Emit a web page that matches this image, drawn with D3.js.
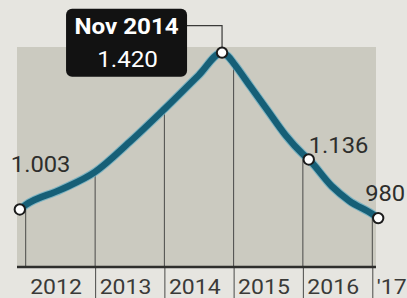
<!DOCTYPE html>
<html><head><meta charset="utf-8">
<script src="https://cdn.jsdelivr.net/npm/d3@7"></script>
<style>
html,body{margin:0;padding:0;background:#e6e5e0;}
svg{display:block;}
text{font-family:Roboto,"Open Sans",sans-serif;}
</style></head>
<body>
<svg id="c" width="407" height="298"></svg>
<script>
// ---- data ----
const dates = ["2011-12","2012-01","2012-07","2013-01","2013-07","2014-01","2014-07","2014-11","2014-12","2015-01","2015-04","2015-07","2015-10","2016-01","2016-02","2016-06","2016-09","2017-01","2017-02"];
const values = [1003,1015,1055,1103,1182,1270,1360,1420,1411,1392,1329,1265,1201,1150,1136,1065,1026,991,980];
const markedDates = ["2011-12","2014-11","2016-02","2017-02"];
const markedLabels = ["1.003","1.420","1.136","980"];
const calloutTitle = "Nov 2014";
const yearTicks = ["2012","2013","2014","2015","2016","2017"];
const yearLabels = ["2012","2013","2014","2015","2016","'17"];

const parse = d3.timeParse("%Y-%m");
const pts = dates.map((d,i)=>({date:parse(d), value:values[i], key:d}));

const W=407,H=298;
const plot={x0:17,x1:376,y0:47,y1:267};
const svg=d3.select("#c");

const x=d3.scaleTime().domain([parse("2012-01"),parse("2017-01")]).range([25.7,372.3]);
const y=d3.scaleLinear().domain([850,1435]).range([plot.y1,plot.y0]);

// background plot area
svg.append("rect").attr("x",plot.x0).attr("y",plot.y0)
  .attr("width",plot.x1-plot.x0).attr("height",plot.y1-plot.y0).attr("fill","#cbcac0");

// drop lines at each January
const jan = pts.filter(p=>p.date.getMonth()===0);
svg.append("g").selectAll("line").data(jan).join("line")
  .attr("x1",d=>x(d.date)).attr("x2",d=>x(d.date))
  .attr("y1",d=>y(d.value)).attr("y2",plot.y1)
  .attr("stroke","#4a4a48").attr("stroke-width",1);

// x axis
const axis=d3.axisBottom(x)
  .tickValues(yearTicks.map(t=>d3.timeParse("%Y")(t)))
  .tickSize(H-plot.y1)
  .tickFormat((d,i)=>yearLabels[i]);
const gx=svg.append("g").attr("transform",`translate(0,${plot.y1})`).call(axis);
gx.select(".domain").remove();
gx.selectAll(".tick line").attr("stroke","#4a4a48").attr("stroke-width",1)
  .attr("display",(d,i)=>i===0?"none":null);
gx.selectAll(".tick text")
  .attr("text-anchor","start").attr("fill","#3a3a38")
  .attr("font-size",20).attr("y",0).attr("dy",0)
  .attr("transform","translate(4,27) scale(1.15,1)")
  .attr("font-family","Roboto");
// scale must be applied relative to text origin: adjust x
gx.selectAll(".tick text").attr("x",0);

svg.append("line").attr("x1",plot.x0).attr("x2",plot.x1)
  .attr("y1",plot.y1).attr("y2",plot.y1)
  .attr("stroke","#2e2e2c").attr("stroke-width",2.5);

// line
const lineGen=d3.line().x(d=>x(d.date)).y(d=>y(d.value)).curve(d3.curveMonotoneX);
svg.append("path").datum(pts).attr("d",lineGen)
  .attr("fill","none").attr("stroke","#6aaec2").attr("stroke-width",8.5)
  .attr("stroke-linejoin","round").attr("stroke-linecap","round").attr("opacity",0.8);
svg.append("path").datum(pts).attr("d",lineGen)
  .attr("fill","none").attr("stroke","#165f77").attr("stroke-width",6.5)
  .attr("stroke-linejoin","round").attr("stroke-linecap","round");

const marked = markedDates.map((m,i)=>{const p=pts.find(q=>q.key===m);return {p,label:markedLabels[i]};});
const peak = marked[1];
const px=x(peak.p.date), py=y(peak.p.value);

// callout connector
svg.append("path")
  .attr("d",`M${px-36},${py-27}H${px}V${py}`)
  .attr("fill","none").attr("stroke","#3a3a38").attr("stroke-width",1.2);

// points
svg.append("g").selectAll("circle").data(marked).join("circle")
  .attr("cx",d=>x(d.p.date)).attr("cy",d=>y(d.p.value)).attr("r",5.2)
  .attr("fill","#fff").attr("stroke","#1c1c1c").attr("stroke-width",2);

// callout box
const bx0=px-156, bx1=px-35, by0=py-44, by1=py+24;
svg.append("rect").attr("x",bx0).attr("y",by0).attr("width",bx1-bx0).attr("height",by1-by0)
  .attr("rx",6).attr("fill","#121212");
const cx=(bx0+bx1)/2;
svg.append("text").attr("transform",`translate(${cx},${py-19}) scale(1.1,1)`)
  .attr("text-anchor","middle").attr("fill","#fff").attr("font-weight","bold")
  .attr("font-size",22).text(calloutTitle);
svg.append("text").attr("transform",`translate(${cx+1},${py+14}) scale(1.1,1)`)
  .attr("text-anchor","middle").attr("fill","#fff")
  .attr("font-size",22).text(peak.label);

// other labels
const offs=[[-9,-37],null,[0,-6],[-13,-17]];
marked.forEach((m,i)=>{
  if(!offs[i])return;
  svg.append("text")
    .attr("transform",`translate(${x(m.p.date)+offs[i][0]},${y(m.p.value)+offs[i][1]}) scale(1.08,1)`)
    .attr("fill","#2e2e2c").attr("font-size",22).text(m.label);
});
</script>
</body></html>
